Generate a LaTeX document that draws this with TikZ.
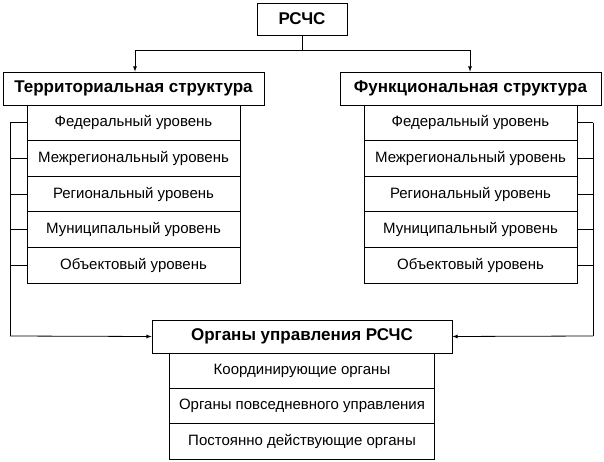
\documentclass[tikz,border=0pt]{standalone}
\usepackage{fontspec}
\setmainfont{Liberation Sans}
\begin{document}
\begin{tikzpicture}[x=1pt,y=-1pt,
  box/.style={draw,line width=0.8pt,fill=white,font=\fontsize{15}{17}\selectfont},
  head/.style={draw,line width=0.8pt,fill=white,font=\fontsize{17}{19}\bfseries},
  ln/.style={line width=0.8pt},
  >=latex]
\path[use as bounding box] (0,0) rectangle (604,462);
\node[head,minimum width=90,minimum height=32] (r) at (302,19) {РСЧС};
\node[head,minimum width=261,minimum height=33] (t) at (133.5,88.5) {Территориальная структура};
\node[head,minimum width=261,minimum height=33] (f) at (470.5,88.5) {Функциональная структура};
\foreach \i/\txt in {1/Федеральный уровень,2/Межрегиональный уровень,3/Региональный уровень,4/Муниципальный уровень,5/Объектовый уровень}{
  \node[box,minimum width=213,minimum height=35.6,inner sep=0] (t\i) at (133.5,{105+17.8+(\i-1)*35.6}) {\txt};
  \node[box,minimum width=213,minimum height=35.6,inner sep=0] (f\i) at (470.5,{105+17.8+(\i-1)*35.6}) {\txt};
}
\node[head,minimum width=300,minimum height=33] (o) at (302,336.5) {Органы управления РСЧС};
\foreach \i/\txt in {1/Координирующие органы,2/Органы повседневного управления,3/Постоянно действующие органы}{
  \node[box,minimum width=265,minimum height=35.3,inner sep=0] (o\i) at (302,{353+17.65+(\i-1)*35.3}) {\txt};
}
\coordinate (jl) at (135,50);
\coordinate (jr) at (470,50);
\draw[ln] (r.south) -- (302,50);
\draw[ln,->] (302,50) -- (jl) -- (t.north -| jl);
\draw[ln,->] (302,50) -- (jr) -- (f.north -| jr);
\coordinate (cl) at (10,336);
\coordinate (cr) at (593,336);
\draw[ln] (t1.west -| cl) -- (cl);
\draw[ln,->] (cl) -- (o.west);
\draw[ln] (f1.east -| cr) -- (cr);
\draw[ln,->] (cr) -- (o.east);
\foreach \i in {1,...,5}{
  \draw[ln] (t\i.west) -- (t\i.west -| cl);
  \draw[ln] (f\i.east) -- (f\i.east -| cr);
}
\end{tikzpicture}
\end{document}
